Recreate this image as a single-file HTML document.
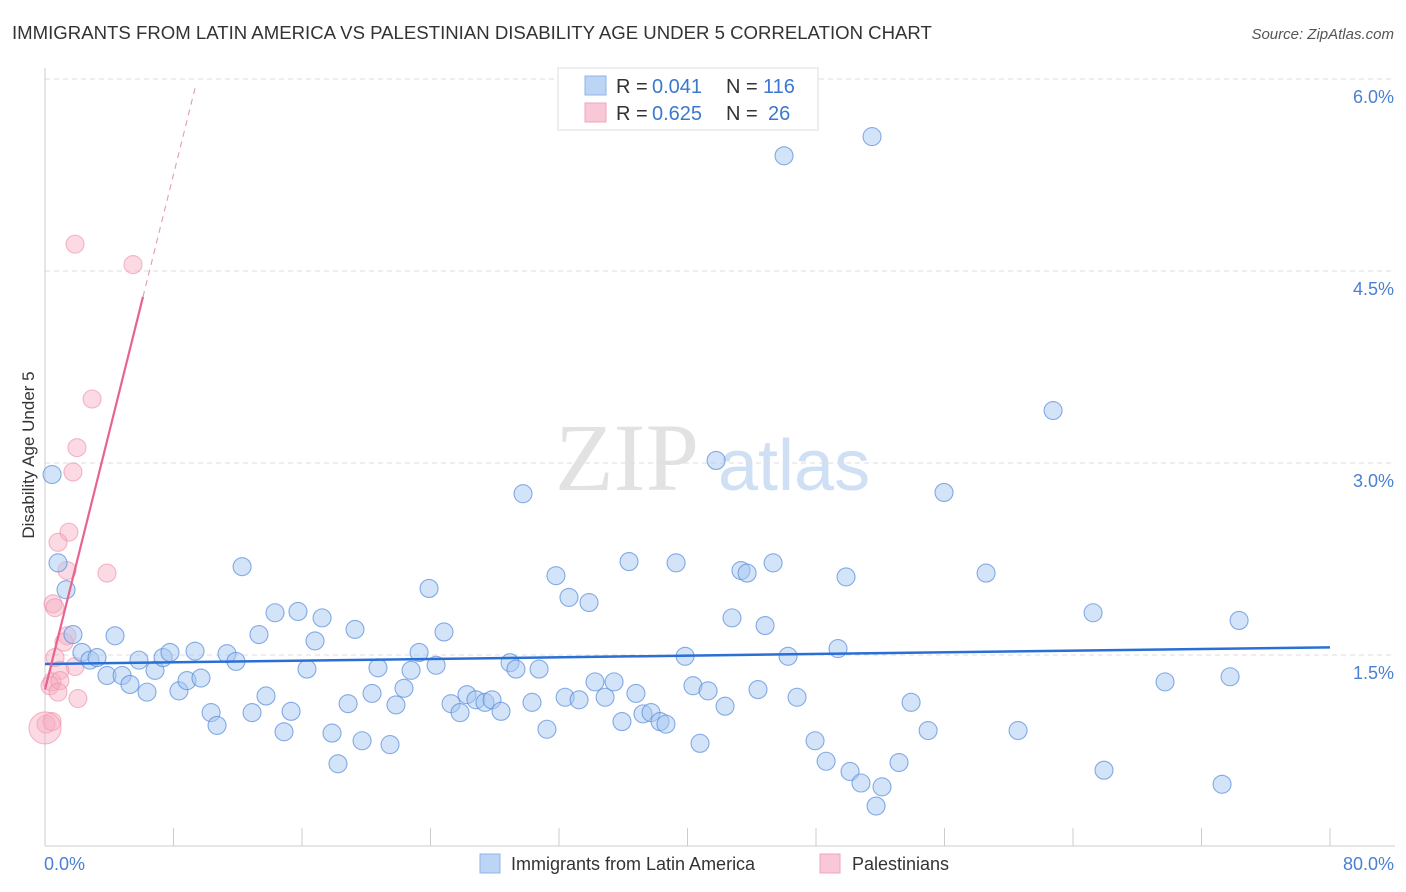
<!DOCTYPE html>
<html><head><meta charset="utf-8"><style>
body{margin:0;background:#fff;font-family:"Liberation Sans",sans-serif;}
svg{display:block}
</style></head><body>
<svg id="chart" width="1406" height="892" xmlns="http://www.w3.org/2000/svg">
<text x="12" y="39" font-size="18.6" fill="#333">IMMIGRANTS FROM LATIN AMERICA VS PALESTINIAN DISABILITY AGE UNDER 5 CORRELATION CHART</text>
<text x="1394" y="39" font-size="15" fill="#555" font-style="italic" text-anchor="end">Source: ZipAtlas.com</text>
<g><text x="555" y="490" font-size="96" font-family="Liberation Serif,serif" fill="#e2e2e2">ZIP</text><text x="718" y="490" font-size="72" fill="#cfe0f5">atlas</text></g>
<g id="grid"></g>
<line x1="45" y1="68" x2="45" y2="846" stroke="#ccc"/>
<line x1="45" y1="846" x2="1395" y2="846" stroke="#ccc"/>
<g id="xticks"></g>
<text x="44" y="870" font-size="18" fill="#4a7fd4">0.0%</text>
<text x="1394" y="870" font-size="18" fill="#4a7fd4" text-anchor="end">80.0%</text>
<text transform="translate(34,455) rotate(-90)" font-size="17" fill="#333" text-anchor="middle">Disability Age Under 5</text>
<g id="pink"></g><g id="blue"></g><g id="lines"></g>
<g>
<rect x="558" y="68" width="260" height="62" fill="#fff" stroke="#ddd"/>
<rect x="585" y="76" width="21" height="19" fill="#bcd5f5" stroke="#8fb4e8"/>
<text x="616" y="93" font-size="20" fill="#333">R =</text>
<text x="652" y="93" font-size="20" fill="#3b78d0">0.041</text>
<text x="726" y="93" font-size="20" fill="#333">N =</text>
<text x="763" y="93" font-size="20" fill="#3b78d0">116</text>
<rect x="585" y="103" width="21" height="19" fill="#f9c8d6" stroke="#eea5bc"/>
<text x="616" y="120" font-size="20" fill="#333">R =</text>
<text x="652" y="120" font-size="20" fill="#3b78d0">0.625</text>
<text x="726" y="120" font-size="20" fill="#333">N =</text>
<text x="768" y="120" font-size="20" fill="#3b78d0">26</text>
</g>
<g>
<rect x="480" y="854" width="20" height="19" fill="#bcd5f5" stroke="#8fb4e8"/>
<text x="511" y="870" font-size="18" fill="#333">Immigrants from Latin America</text>
<rect x="820" y="854" width="20" height="19" fill="#f9c8d6" stroke="#eea5bc"/>
<text x="852" y="870" font-size="18" fill="#333">Palestinians</text>
</g>
</svg>
<script>
const yTicks=[1.5,3.0,4.5,6.0];
const yTickLabels=["1.5%","3.0%","4.5%","6.0%"];
const xTicks=[0,8,16,24,32,40,48,56,64,72,80];
const blueX=[0.44,0.81,1.31,1.74,2.30,2.80,3.24,3.86,4.36,4.80,5.29,5.85,6.35,6.85,7.35,7.78,8.34,8.84,9.34,9.71,10.34,10.71,11.33,11.89,12.27,12.89,13.32,13.76,14.32,14.88,15.32,15.75,16.31,16.81,17.25,17.87,18.24,18.87,19.30,19.74,20.36,20.73,21.48,21.85,22.35,22.79,23.29,23.91,24.35,24.84,25.28,25.84,26.27,26.83,27.39,27.83,28.39,28.95,29.32,29.76,30.32,30.76,31.25,31.81,32.38,32.62,33.25,33.87,34.24,34.87,35.43,35.92,36.36,36.79,37.23,37.73,38.29,38.66,39.29,39.85,40.34,40.78,41.28,41.78,42.34,42.77,43.33,43.71,44.39,44.83,45.33,46.01,46.26,46.82,47.94,48.63,49.37,49.87,50.12,50.80,51.49,51.74,52.11,53.17,53.92,54.98,55.97,58.59,60.58,62.76,65.25,65.93,69.73,73.28,73.78,74.34];
const blueY=[2.91,2.22,2.01,1.66,1.52,1.46,1.48,1.34,1.65,1.34,1.27,1.46,1.21,1.38,1.48,1.52,1.22,1.30,1.53,1.32,1.05,0.95,1.51,1.45,2.19,1.05,1.66,1.18,1.83,0.90,1.06,1.84,1.39,1.61,1.79,0.89,0.65,1.12,1.70,0.83,1.20,1.40,0.80,1.11,1.24,1.38,1.52,2.02,1.42,1.68,1.12,1.05,1.19,1.15,1.13,1.15,1.06,1.44,1.39,2.76,1.13,1.39,0.92,2.12,1.17,1.95,1.15,1.91,1.29,1.17,1.29,0.98,2.23,1.20,1.04,1.05,0.98,0.96,2.22,1.49,1.26,0.81,1.22,3.02,1.10,1.79,2.16,2.14,1.23,1.73,2.22,5.40,1.49,1.17,0.83,0.67,1.55,2.11,0.59,0.50,5.55,0.32,0.47,0.66,1.13,0.91,2.77,2.14,0.91,3.41,1.83,0.60,1.29,0.49,1.33,1.77];
const pinkX=[1.87,5.48,2.93,1.99,1.74,1.49,0.81,1.37,3.86,0.50,0.62,1.37,1.18,0.62,1.87,0.93,0.44,0.31,0.93,0.81,2.05,0.06,0.44,0.0];
const pinkY=[4.71,4.55,3.50,3.12,2.93,2.46,2.38,2.16,2.14,1.90,1.87,1.65,1.60,1.48,1.41,1.38,1.29,1.26,1.30,1.21,1.16,0.96,0.98,0.93];
const blueTrend=[1.43,1.56];
const pinkTrend=[1.23,0.503];
const NS="http://www.w3.org/2000/svg";
const X=v=>45+v/80*1285, Y=v=>847-v*128;
function mk(t,a,p){const e=document.createElementNS(NS,t);for(const k in a)e.setAttribute(k,a[k]);p.appendChild(e);return e;}
const grid=document.getElementById('grid');
yTicks.forEach((t,i)=>{
 const l=mk('line',{x1:45,x2:1395,y1:Y(t),y2:Y(t),stroke:'#ddd','stroke-dasharray':'5,4'},grid);
 
 
 const tx=mk('text',{x:1394,y:Y(t)+24,'font-size':18,fill:'#4a7fd4','text-anchor':'end'},grid);
 tx.textContent=yTickLabels[i];
 
 
});
const xt=document.getElementById('xticks');
xTicks.forEach(t=>{const l=mk('line',{x1:X(t),x2:X(t),y1:828,y2:846,stroke:'#ccc'},xt);
 
 });
const pg=document.getElementById('pink');
pinkX.forEach((x,i)=>{const r=i===pinkX.length-1?16:9;
 const c=mk('circle',{cx:X(x),cy:Y(pinkY[i]),r:r,fill:'rgba(246,172,194,0.45)',stroke:'rgba(236,140,170,0.6)','stroke-width':1.1},pg);
 
 });
const bg=document.getElementById('blue');
blueX.forEach((x,i)=>{const c=mk('circle',{cx:X(x),cy:Y(blueY[i]),r:9,fill:'rgba(168,200,242,0.5)',stroke:'rgba(85,140,220,0.7)','stroke-width':1.1},bg);
 
 });
const lg=document.getElementById('lines');
const bl=mk('line',{x1:X(0),y1:Y(blueTrend[0]),x2:X(80),y2:Y(blueTrend[1]),stroke:'#2a6fd6','stroke-width':2.5},lg);


const pf=x=>pinkTrend[0]+pinkTrend[1]*x;
const pl=mk('line',{x1:X(0),y1:Y(pf(0)),x2:X(6.1),y2:Y(pf(6.1)),stroke:'#e8638d','stroke-width':2.2},lg);


const pd=mk('line',{x1:X(6.1),y1:Y(pf(6.1)),x2:X(9.4),y2:Y(pf(9.4)),stroke:'#e8a0b8','stroke-width':1.2,'stroke-dasharray':'6,5'},lg);


</script>
</body></html>
